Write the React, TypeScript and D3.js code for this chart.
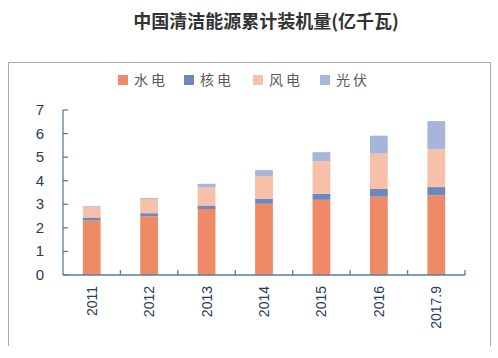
import React from "react";
import * as d3 from "d3";

const categories = ["2011", "2012", "2013", "2014", "2015", "2016", "2017.9"];
const seriesNames = ["水电", "核电", "风电", "光伏"];
const hydro = [2.31, 2.49, 2.8, 3.02, 3.19, 3.32, 3.38];
const nuclear = [0.13, 0.13, 0.15, 0.21, 0.26, 0.33, 0.35];
const wind = [0.46, 0.61, 0.77, 0.96, 1.38, 1.5, 1.6];
const solar = [0.03, 0.04, 0.15, 0.26, 0.38, 0.76, 1.2];
const yTicks = [0, 1, 2, 3, 4, 5, 6, 7];
const colors = ["#EE8B66", "#6F88BC", "#F6C1A8", "#A8B5DA"];

export default function App() {
  const W = 498, H = 358;
  const x0 = 63, x1 = 465, yBase = 275, yTop = 110;
  const x = d3.scaleBand<string>().domain(categories).range([x0, x1]).paddingInner(0.69).paddingOuter(0.345);
  const y = d3.scaleLinear().domain([0, 7]).range([yBase, yTop]);
  const rows = categories.map((c, i) => ({ cat: c, 水电: hydro[i], 核电: nuclear[i], 风电: wind[i], 光伏: solar[i] }));
  const stacked = d3.stack<any>().keys(seriesNames)(rows);
  const step = (x1 - x0) / categories.length;
  const axisColor = "#5B7A9E";
  const textColor = "#2A3A58";
  const font = "'Liberation Sans', Arial, sans-serif";
  const legendX = [118, 184, 253, 320];
  return (
    <svg width={W} height={H} style={{ position: "absolute", left: 0, top: 0 }}>
      <rect x={0} y={0} width={W} height={H} fill="#fff" />
      <text x={266} y={28} textAnchor="middle" fontSize={18} fontWeight="bold" fill="#333"
        fontFamily="'Noto Sans CJK SC', sans-serif">中国清洁能源累计装机量(亿千瓦)</text>
      <path d={`M8.5,346 V62.5 H490.5 V346`} fill="none" stroke="#A8A8A8" strokeWidth={1} />
      {seriesNames.map((s, i) => (
        <g key={s}>
          <rect x={legendX[i]} y={75} width={10} height={10} fill={colors[i]} />
          <text x={legendX[i] + 16} y={85} fontSize={14} fill="#595959"
            fontFamily="'Noto Sans CJK SC', sans-serif" letterSpacing={3}>{s}</text>
        </g>
      ))}
      {stacked.map((layer, si) => (
        <g key={si} fill={colors[si]}>
          {layer.map((d, i) => (
            <rect key={i} x={x(categories[i])} width={x.bandwidth()} y={y(d[1])} height={y(d[0]) - y(d[1])} />
          ))}
        </g>
      ))}
      <line x1={x0} x2={x0} y1={yTop} y2={yBase} stroke={axisColor} strokeWidth={1.3} />
      <line x1={x0} x2={x1} y1={yBase} y2={yBase} stroke={axisColor} strokeWidth={1.3} />
      {yTicks.map((t) => (
        <g key={t}>
          <line x1={x0} x2={x0 + 5} y1={y(t)} y2={y(t)} stroke={axisColor} strokeWidth={1.3} />
          <text x={44} y={y(t) + 5} textAnchor="end" fontSize={15} fill={textColor} fontFamily={font}>{t}</text>
        </g>
      ))}
      {categories.map((c, i) => (
        <g key={c}>
          <line x1={x0 + step * (i + 1)} x2={x0 + step * (i + 1)} y1={yBase} y2={yBase - 5} stroke={axisColor} strokeWidth={1.3} />
          <text transform={`translate(${(x(c) as number) + x.bandwidth() / 2 + 5},${yBase + 11}) rotate(-90)`}
            textAnchor="end" fontSize={14} fill={textColor} fontFamily={font}>{c}</text>
        </g>
      ))}
    </svg>
  );
}
